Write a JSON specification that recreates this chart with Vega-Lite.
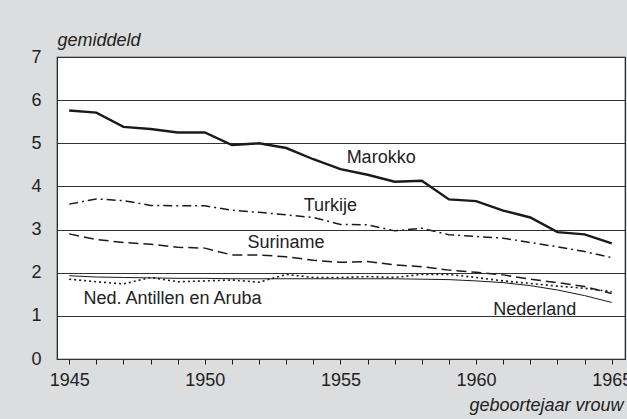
{
  "$schema": "https://vega.github.io/schema/vega-lite/v6.json",
  "autosize": {"type": "none"},
  "width": 568,
  "height": 302,
  "padding": {"left": 57, "top": 57, "right": 2, "bottom": 60},
  "background": "#dcdddf",
  "config": {
    "font": "Liberation Sans",
    "view": {"fill": "white", "stroke": "#1a1a1a", "strokeWidth": 1.2},
    "axis": {"labelFont": "Liberation Sans", "titleFont": "Liberation Sans", "labelColor": "#222", "titleColor": "#222"}
  },
  "datasets": {
    "series": [
      {"year": 1945, "series": "Marokko", "value": 5.76},
      {"year": 1946, "series": "Marokko", "value": 5.71},
      {"year": 1947, "series": "Marokko", "value": 5.38},
      {"year": 1948, "series": "Marokko", "value": 5.33},
      {"year": 1949, "series": "Marokko", "value": 5.25},
      {"year": 1950, "series": "Marokko", "value": 5.25},
      {"year": 1951, "series": "Marokko", "value": 4.96},
      {"year": 1952, "series": "Marokko", "value": 5.00},
      {"year": 1953, "series": "Marokko", "value": 4.89},
      {"year": 1954, "series": "Marokko", "value": 4.63},
      {"year": 1955, "series": "Marokko", "value": 4.40},
      {"year": 1956, "series": "Marokko", "value": 4.27},
      {"year": 1957, "series": "Marokko", "value": 4.11},
      {"year": 1958, "series": "Marokko", "value": 4.13},
      {"year": 1959, "series": "Marokko", "value": 3.70},
      {"year": 1960, "series": "Marokko", "value": 3.66},
      {"year": 1961, "series": "Marokko", "value": 3.44},
      {"year": 1962, "series": "Marokko", "value": 3.28},
      {"year": 1963, "series": "Marokko", "value": 2.94},
      {"year": 1964, "series": "Marokko", "value": 2.89},
      {"year": 1965, "series": "Marokko", "value": 2.68},
      {"year": 1945, "series": "Turkije", "value": 3.59},
      {"year": 1946, "series": "Turkije", "value": 3.71},
      {"year": 1947, "series": "Turkije", "value": 3.67},
      {"year": 1948, "series": "Turkije", "value": 3.56},
      {"year": 1949, "series": "Turkije", "value": 3.55},
      {"year": 1950, "series": "Turkije", "value": 3.55},
      {"year": 1951, "series": "Turkije", "value": 3.45},
      {"year": 1952, "series": "Turkije", "value": 3.40},
      {"year": 1953, "series": "Turkije", "value": 3.34},
      {"year": 1954, "series": "Turkije", "value": 3.28},
      {"year": 1955, "series": "Turkije", "value": 3.12},
      {"year": 1956, "series": "Turkije", "value": 3.11},
      {"year": 1957, "series": "Turkije", "value": 2.97},
      {"year": 1958, "series": "Turkije", "value": 3.03},
      {"year": 1959, "series": "Turkije", "value": 2.88},
      {"year": 1960, "series": "Turkije", "value": 2.84},
      {"year": 1961, "series": "Turkije", "value": 2.80},
      {"year": 1962, "series": "Turkije", "value": 2.70},
      {"year": 1963, "series": "Turkije", "value": 2.60},
      {"year": 1964, "series": "Turkije", "value": 2.49},
      {"year": 1965, "series": "Turkije", "value": 2.35},
      {"year": 1945, "series": "Suriname", "value": 2.90},
      {"year": 1946, "series": "Suriname", "value": 2.77},
      {"year": 1947, "series": "Suriname", "value": 2.70},
      {"year": 1948, "series": "Suriname", "value": 2.66},
      {"year": 1949, "series": "Suriname", "value": 2.59},
      {"year": 1950, "series": "Suriname", "value": 2.57},
      {"year": 1951, "series": "Suriname", "value": 2.41},
      {"year": 1952, "series": "Suriname", "value": 2.41},
      {"year": 1953, "series": "Suriname", "value": 2.37},
      {"year": 1954, "series": "Suriname", "value": 2.29},
      {"year": 1955, "series": "Suriname", "value": 2.24},
      {"year": 1956, "series": "Suriname", "value": 2.26},
      {"year": 1957, "series": "Suriname", "value": 2.18},
      {"year": 1958, "series": "Suriname", "value": 2.14},
      {"year": 1959, "series": "Suriname", "value": 2.06},
      {"year": 1960, "series": "Suriname", "value": 2.01},
      {"year": 1961, "series": "Suriname", "value": 1.95},
      {"year": 1962, "series": "Suriname", "value": 1.85},
      {"year": 1963, "series": "Suriname", "value": 1.77},
      {"year": 1964, "series": "Suriname", "value": 1.68},
      {"year": 1965, "series": "Suriname", "value": 1.52},
      {"year": 1945, "series": "Ned. Antillen en Aruba", "value": 1.85},
      {"year": 1946, "series": "Ned. Antillen en Aruba", "value": 1.79},
      {"year": 1947, "series": "Ned. Antillen en Aruba", "value": 1.74},
      {"year": 1948, "series": "Ned. Antillen en Aruba", "value": 1.89},
      {"year": 1949, "series": "Ned. Antillen en Aruba", "value": 1.79},
      {"year": 1950, "series": "Ned. Antillen en Aruba", "value": 1.81},
      {"year": 1951, "series": "Ned. Antillen en Aruba", "value": 1.83},
      {"year": 1952, "series": "Ned. Antillen en Aruba", "value": 1.78},
      {"year": 1953, "series": "Ned. Antillen en Aruba", "value": 1.96},
      {"year": 1954, "series": "Ned. Antillen en Aruba", "value": 1.89},
      {"year": 1955, "series": "Ned. Antillen en Aruba", "value": 1.89},
      {"year": 1956, "series": "Ned. Antillen en Aruba", "value": 1.91},
      {"year": 1957, "series": "Ned. Antillen en Aruba", "value": 1.89},
      {"year": 1958, "series": "Ned. Antillen en Aruba", "value": 1.96},
      {"year": 1959, "series": "Ned. Antillen en Aruba", "value": 1.96},
      {"year": 1960, "series": "Ned. Antillen en Aruba", "value": 1.89},
      {"year": 1961, "series": "Ned. Antillen en Aruba", "value": 1.81},
      {"year": 1962, "series": "Ned. Antillen en Aruba", "value": 1.75},
      {"year": 1963, "series": "Ned. Antillen en Aruba", "value": 1.69},
      {"year": 1964, "series": "Ned. Antillen en Aruba", "value": 1.64},
      {"year": 1965, "series": "Ned. Antillen en Aruba", "value": 1.56},
      {"year": 1945, "series": "Nederland", "value": 1.93},
      {"year": 1946, "series": "Nederland", "value": 1.90},
      {"year": 1947, "series": "Nederland", "value": 1.89},
      {"year": 1948, "series": "Nederland", "value": 1.88},
      {"year": 1949, "series": "Nederland", "value": 1.87},
      {"year": 1950, "series": "Nederland", "value": 1.87},
      {"year": 1951, "series": "Nederland", "value": 1.86},
      {"year": 1952, "series": "Nederland", "value": 1.86},
      {"year": 1953, "series": "Nederland", "value": 1.86},
      {"year": 1954, "series": "Nederland", "value": 1.86},
      {"year": 1955, "series": "Nederland", "value": 1.86},
      {"year": 1956, "series": "Nederland", "value": 1.86},
      {"year": 1957, "series": "Nederland", "value": 1.86},
      {"year": 1958, "series": "Nederland", "value": 1.85},
      {"year": 1959, "series": "Nederland", "value": 1.84},
      {"year": 1960, "series": "Nederland", "value": 1.81},
      {"year": 1961, "series": "Nederland", "value": 1.77},
      {"year": 1962, "series": "Nederland", "value": 1.70},
      {"year": 1963, "series": "Nederland", "value": 1.60},
      {"year": 1964, "series": "Nederland", "value": 1.47},
      {"year": 1965, "series": "Nederland", "value": 1.31}
    ],
    "labels": [
      {"label": "Marokko", "year": 1956.5, "value": 4.54},
      {"label": "Turkije", "year": 1954.63, "value": 3.43},
      {"label": "Suriname", "year": 1952.99, "value": 2.57},
      {"label": "Ned. Antillen en Aruba", "year": 1948.81, "value": 1.27},
      {"label": "Nederland", "year": 1962.16, "value": 1.02}
    ]
  },
  "encoding": {
    "x": {
      "field": "year", "type": "quantitative",
      "scale": {"domain": [1944.55, 1965.49], "nice": false, "zero": false},
      "axis": {
        "values": [1945,1946,1947,1948,1949,1950,1951,1952,1953,1954,1955,1956,1957,1958,1959,1960,1961,1962,1963,1964,1965],
        "labelExpr": "datum.value % 5 == 0 ? datum.label : ''",
        "format": "d",
        "grid": false,
        "domain": false,
        "ticks": true, "tickSize": 5, "tickColor": "#1a1a1a", "tickWidth": 1,
        "labelFontSize": 18, "labelPadding": 7, "labelFlush": false, "labelOverlap": false,
        "title": "geboortejaar vrouw",
        "titleFontSize": 18, "titleFontStyle": "italic", "titleFontWeight": "normal",
        "titleAlign": "right", "titleAnchor": null, "titleBaseline": "alphabetic",
        "titleX": 566, "titleY": 51
      }
    },
    "y": {
      "field": "value", "type": "quantitative",
      "scale": {"domain": [0, 7], "nice": false},
      "axis": {
        "values": [0,1,2,3,4,5,6,7],
        "grid": true, "gridColor": "#333", "gridWidth": 1,
        "domain": false, "ticks": false,
        "labelFontSize": 18, "labelPadding": 16,
        "title": "gemiddeld",
        "titleFontSize": 18, "titleFontStyle": "italic", "titleFontWeight": "normal",
        "titleAngle": 0, "titleAlign": "left", "titleAnchor": null, "titleBaseline": "alphabetic",
        "titleX": 0, "titleY": -12
      }
    }
  },
  "layer": [
    {
      "data": {"name": "series"},
      "transform": [{"filter": "datum.series == 'Nederland'"}],
      "mark": {"type": "line", "color": "#1a1a1a", "strokeWidth": 1}
    },
    {
      "data": {"name": "series"},
      "transform": [{"filter": "datum.series == 'Ned. Antillen en Aruba'"}],
      "mark": {"type": "line", "color": "#1a1a1a", "strokeWidth": 1.6, "strokeDash": [2, 3]}
    },
    {
      "data": {"name": "series"},
      "transform": [{"filter": "datum.series == 'Suriname'"}],
      "mark": {"type": "line", "color": "#1a1a1a", "strokeWidth": 1.5, "strokeDash": [10, 5]}
    },
    {
      "data": {"name": "series"},
      "transform": [{"filter": "datum.series == 'Turkije'"}],
      "mark": {"type": "line", "color": "#1a1a1a", "strokeWidth": 1.5, "strokeDash": [9, 4, 2, 4]}
    },
    {
      "data": {"name": "series"},
      "transform": [{"filter": "datum.series == 'Marokko'"}],
      "mark": {"type": "line", "color": "#1a1a1a", "strokeWidth": 2.4}
    },
    {
      "data": {"name": "labels"},
      "mark": {"type": "text", "fontSize": 18, "color": "#222", "align": "center", "baseline": "alphabetic"},
      "encoding": {"text": {"field": "label"}}
    }
  ]
}
